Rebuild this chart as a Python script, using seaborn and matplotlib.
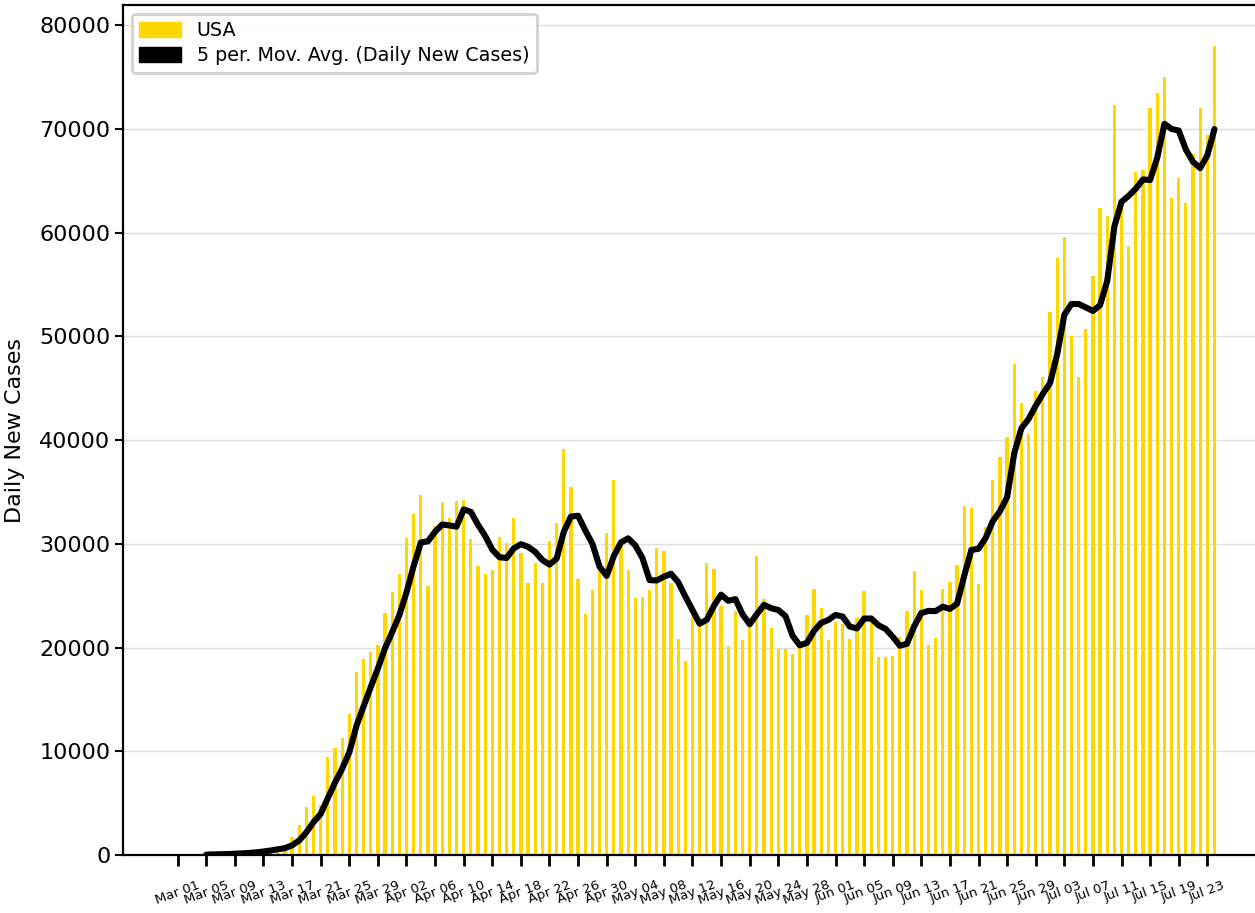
import pandas as pd
import matplotlib
matplotlib.use('Agg')
import matplotlib.pyplot as plt
from matplotlib.patches import Patch
import seaborn as sns

# Daily new cases, USA, Mar 01 - Jul 24
mar_cases = [20, 25, 30, 45, 70, 100, 120, 140, 180, 250, 300, 420, 550, 650, 800, 900,
             1770, 2890, 4600, 5690, 4850, 9420, 10350, 11270, 13570, 17600, 18900,
             19600, 20240, 23360, 25320]
apr_cases = [27090, 30590, 32900, 34700, 25930, 31700, 34060, 32450, 34120, 34250,
             30490, 27860, 27090, 27470, 30620, 30100, 32480, 29140, 26190, 28180,
             26190, 30270, 32030, 39130, 35500, 26570, 23260, 25540, 28130, 31030]
may_cases = [36170, 29800, 27490, 24760, 24890, 25560, 29620, 29300, 26190, 20820,
             18670, 23100, 22700, 28100, 27560, 24000, 20160, 23500, 20770, 22800,
             28850, 24630, 21900, 19900, 19900, 19360, 20000, 23100, 25670, 23780, 20720]
jun_cases = [22460, 22300, 20850, 22890, 25450, 22500, 19040, 19100, 19160, 21040,
             23510, 27400, 25500, 20200, 20940, 25640, 26330, 28000, 33610, 33480,
             26160, 31570, 36100, 38390, 40260, 47300, 43600, 40580, 44750, 46060]
jul_cases = [52370, 57560, 59590, 49990, 46040, 50750, 55840, 62380, 61620, 72290,
             62700, 58700, 65830, 66050, 72050, 73460, 75010, 63340, 65300, 62890,
             67540, 71980, 69440, 78000]

cases = mar_cases + apr_cases + may_cases + jun_cases + jul_cases
dates = pd.date_range('2020-03-01', periods=len(cases), freq='D')

df = pd.DataFrame({'Date': dates, 'Cases': cases})
df['Day'] = range(len(df))
df['MA'] = df['Cases'].rolling(5).mean()

sns.set_theme(style='ticks')
plt.rcParams['font.family'] = ['DejaVu Sans']
plt.rcParams.update({'text.color': 'black', 'axes.labelcolor': 'black',
                     'xtick.color': 'black', 'ytick.color': 'black'})

fig = plt.figure(figsize=(12.55, 9.13), dpi=100)
ax = fig.add_axes([0.098, 0.0635, 0.902, 0.931])

sns.barplot(data=df, x='Day', y='Cases', native_scale=True, color='gold',
            saturation=1, width=0.45, errorbar=None, linewidth=0, ax=ax, zorder=2)
sns.lineplot(data=df, x='Day', y='MA', color='black', lw=4.4, ax=ax, zorder=3)

# x ticks every 4 days
tick_days = df['Day'][::4]
ax.set_xticks(tick_days)
ax.set_xticklabels(df['Date'][::4].dt.strftime('%b %d'), rotation=20, ha='center', fontsize=9.5)
ax.set_xlim(-7.65, 150.67)
ax.set_ylim(0, 81930)
ax.set_yticks(range(0, 80001, 10000))
ax.tick_params(axis='y', labelsize=16, length=6, width=1.5, pad=3)
ax.tick_params(axis='x', length=8, width=2, pad=9)
ax.set_xlabel('')
ax.set_ylabel('Daily New Cases', fontsize=16, labelpad=10)

ax.grid(axis='y', color='#dddddd', lw=1)
ax.set_axisbelow(True)
for s in ['left', 'top', 'bottom']:
    ax.spines[s].set_linewidth(1.6)
    ax.spines[s].set_color('black')
ax.spines['right'].set_visible(False)

handles = [Patch(color='gold', label='USA'),
           Patch(color='black', label='5 per. Mov. Avg. (Daily New Cases)')]
leg = ax.legend(handles=handles, loc='upper left', fontsize=13.8, borderaxespad=0.45,
                borderpad=0.4, labelspacing=0.3, handletextpad=0.8,
                handlelength=2.2, handleheight=0.85, framealpha=0.9)
leg.get_frame().set_edgecolor('#cccccc')
leg.get_frame().set_linewidth(2)

fig.savefig('out.png', dpi=100)
